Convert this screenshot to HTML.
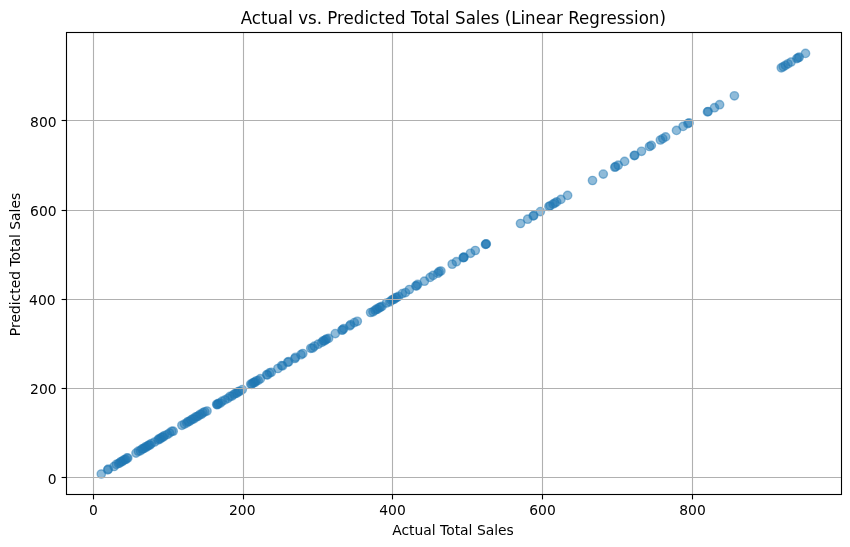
<!DOCTYPE html>
<html lang="en"><head><meta charset="utf-8"><title>Actual vs. Predicted Total Sales (Linear Regression)</title>
<style>html,body{margin:0;padding:0;background:#fff}body{width:850px;height:547px;overflow:hidden}svg{display:block}text{font-family:"DejaVu Sans","Liberation Sans",sans-serif;fill:#000}.t{font-size:13.889px}.h{font-size:16.667px}</style></head><body>
<svg width="850" height="547" viewBox="0 0 850 547">
<rect width="850" height="547" fill="#fff"/>
<g fill="#1f77b4" fill-opacity="0.5" stroke="#1f77b4" stroke-opacity="0.5" stroke-width="1.389">
<circle cx="101.3" cy="474.0" r="4.17"/>
<circle cx="107.7" cy="469.9" r="4.17"/>
<circle cx="108.3" cy="469.2" r="4.17"/>
<circle cx="114.1" cy="466.5" r="4.17"/>
<circle cx="116.3" cy="464.4" r="4.17"/>
<circle cx="118.5" cy="463.5" r="4.17"/>
<circle cx="119.8" cy="462.9" r="4.17"/>
<circle cx="121.0" cy="461.5" r="4.17"/>
<circle cx="122.2" cy="461.6" r="4.17"/>
<circle cx="123.4" cy="460.3" r="4.17"/>
<circle cx="124.6" cy="459.6" r="4.17"/>
<circle cx="125.8" cy="459.5" r="4.17"/>
<circle cx="127.0" cy="457.9" r="4.17"/>
<circle cx="127.8" cy="458.1" r="4.17"/>
<circle cx="136.0" cy="453.1" r="4.17"/>
<circle cx="138.3" cy="451.2" r="4.17"/>
<circle cx="140.3" cy="450.8" r="4.17"/>
<circle cx="141.8" cy="449.2" r="4.17"/>
<circle cx="143.0" cy="448.7" r="4.17"/>
<circle cx="144.2" cy="448.4" r="4.17"/>
<circle cx="145.4" cy="446.9" r="4.17"/>
<circle cx="146.6" cy="447.0" r="4.17"/>
<circle cx="147.8" cy="445.9" r="4.17"/>
<circle cx="148.9" cy="445.0" r="4.17"/>
<circle cx="150.0" cy="445.0" r="4.17"/>
<circle cx="151.3" cy="443.5" r="4.17"/>
<circle cx="154.6" cy="442.0" r="4.17"/>
<circle cx="158.0" cy="440.0" r="4.17"/>
<circle cx="159.0" cy="438.8" r="4.17"/>
<circle cx="160.0" cy="439.0" r="4.17"/>
<circle cx="161.2" cy="437.7" r="4.17"/>
<circle cx="162.4" cy="437.1" r="4.17"/>
<circle cx="163.5" cy="436.9" r="4.17"/>
<circle cx="164.5" cy="435.5" r="4.17"/>
<circle cx="167.3" cy="434.5" r="4.17"/>
<circle cx="169.5" cy="433.0" r="4.17"/>
<circle cx="171.7" cy="431.3" r="4.17"/>
<circle cx="173.2" cy="431.2" r="4.17"/>
<circle cx="181.9" cy="425.3" r="4.17"/>
<circle cx="184.4" cy="424.1" r="4.17"/>
<circle cx="186.8" cy="422.9" r="4.17"/>
<circle cx="188.0" cy="421.5" r="4.17"/>
<circle cx="189.5" cy="421.4" r="4.17"/>
<circle cx="191.0" cy="420.1" r="4.17"/>
<circle cx="192.5" cy="419.0" r="4.17"/>
<circle cx="194.0" cy="418.8" r="4.17"/>
<circle cx="195.5" cy="417.0" r="4.17"/>
<circle cx="197.0" cy="416.7" r="4.17"/>
<circle cx="198.5" cy="415.8" r="4.17"/>
<circle cx="200.0" cy="414.4" r="4.17"/>
<circle cx="201.5" cy="414.3" r="4.17"/>
<circle cx="203.0" cy="412.7" r="4.17"/>
<circle cx="204.8" cy="411.8" r="4.17"/>
<circle cx="207.0" cy="411.0" r="4.17"/>
<circle cx="216.7" cy="404.3" r="4.17"/>
<circle cx="217.3" cy="404.7" r="4.17"/>
<circle cx="217.9" cy="404.1" r="4.17"/>
<circle cx="218.6" cy="403.3" r="4.17"/>
<circle cx="220.4" cy="403.0" r="4.17"/>
<circle cx="222.2" cy="401.2" r="4.17"/>
<circle cx="225.0" cy="399.9" r="4.17"/>
<circle cx="228.0" cy="398.3" r="4.17"/>
<circle cx="230.0" cy="396.4" r="4.17"/>
<circle cx="232.0" cy="396.1" r="4.17"/>
<circle cx="234.0" cy="394.3" r="4.17"/>
<circle cx="235.5" cy="393.4" r="4.17"/>
<circle cx="237.0" cy="393.1" r="4.17"/>
<circle cx="238.3" cy="391.5" r="4.17"/>
<circle cx="239.6" cy="391.3" r="4.17"/>
<circle cx="242.3" cy="389.6" r="4.17"/>
<circle cx="250.7" cy="384.1" r="4.17"/>
<circle cx="251.8" cy="384.3" r="4.17"/>
<circle cx="252.9" cy="382.9" r="4.17"/>
<circle cx="254.0" cy="382.5" r="4.17"/>
<circle cx="255.1" cy="382.2" r="4.17"/>
<circle cx="256.2" cy="380.8" r="4.17"/>
<circle cx="258.2" cy="380.4" r="4.17"/>
<circle cx="260.4" cy="378.7" r="4.17"/>
<circle cx="266.7" cy="374.7" r="4.17"/>
<circle cx="267.5" cy="374.9" r="4.17"/>
<circle cx="269.5" cy="372.9" r="4.17"/>
<circle cx="271.3" cy="372.3" r="4.17"/>
<circle cx="277.9" cy="368.5" r="4.17"/>
<circle cx="281.6" cy="365.6" r="4.17"/>
<circle cx="282.6" cy="365.9" r="4.17"/>
<circle cx="287.7" cy="362.2" r="4.17"/>
<circle cx="288.7" cy="361.7" r="4.17"/>
<circle cx="294.9" cy="358.5" r="4.17"/>
<circle cx="295.5" cy="357.3" r="4.17"/>
<circle cx="301.0" cy="354.7" r="4.17"/>
<circle cx="302.8" cy="353.5" r="4.17"/>
<circle cx="310.8" cy="348.3" r="4.17"/>
<circle cx="312.6" cy="348.0" r="4.17"/>
<circle cx="314.4" cy="346.2" r="4.17"/>
<circle cx="318.2" cy="344.2" r="4.17"/>
<circle cx="321.8" cy="342.4" r="4.17"/>
<circle cx="323.2" cy="340.8" r="4.17"/>
<circle cx="324.4" cy="340.9" r="4.17"/>
<circle cx="325.6" cy="339.7" r="4.17"/>
<circle cx="326.6" cy="339.0" r="4.17"/>
<circle cx="328.6" cy="338.4" r="4.17"/>
<circle cx="335.3" cy="333.6" r="4.17"/>
<circle cx="341.9" cy="330.2" r="4.17"/>
<circle cx="342.8" cy="329.7" r="4.17"/>
<circle cx="343.7" cy="328.6" r="4.17"/>
<circle cx="349.8" cy="325.8" r="4.17"/>
<circle cx="350.6" cy="324.7" r="4.17"/>
<circle cx="354.3" cy="322.6" r="4.17"/>
<circle cx="357.3" cy="321.3" r="4.17"/>
<circle cx="370.6" cy="312.5" r="4.17"/>
<circle cx="373.0" cy="311.8" r="4.17"/>
<circle cx="375.0" cy="310.3" r="4.17"/>
<circle cx="376.4" cy="309.2" r="4.17"/>
<circle cx="377.8" cy="309.1" r="4.17"/>
<circle cx="379.2" cy="307.5" r="4.17"/>
<circle cx="380.4" cy="307.2" r="4.17"/>
<circle cx="382.0" cy="306.4" r="4.17"/>
<circle cx="386.5" cy="303.0" r="4.17"/>
<circle cx="389.9" cy="301.8" r="4.17"/>
<circle cx="391.4" cy="300.4" r="4.17"/>
<circle cx="392.8" cy="299.5" r="4.17"/>
<circle cx="394.2" cy="299.3" r="4.17"/>
<circle cx="395.4" cy="297.7" r="4.17"/>
<circle cx="396.8" cy="297.5" r="4.17"/>
<circle cx="398.5" cy="296.4" r="4.17"/>
<circle cx="402.3" cy="293.6" r="4.17"/>
<circle cx="405.5" cy="292.6" r="4.17"/>
<circle cx="409.4" cy="289.5" r="4.17"/>
<circle cx="415.8" cy="285.9" r="4.17"/>
<circle cx="416.7" cy="285.8" r="4.17"/>
<circle cx="417.6" cy="284.4" r="4.17"/>
<circle cx="424.4" cy="281.2" r="4.17"/>
<circle cx="430.1" cy="277.4" r="4.17"/>
<circle cx="433.1" cy="275.4" r="4.17"/>
<circle cx="437.9" cy="273.2" r="4.17"/>
<circle cx="439.1" cy="271.7" r="4.17"/>
<circle cx="440.9" cy="271.0" r="4.17"/>
<circle cx="452.2" cy="264.2" r="4.17"/>
<circle cx="456.4" cy="261.7" r="4.17"/>
<circle cx="463.2" cy="257.7" r="4.17"/>
<circle cx="463.6" cy="257.4" r="4.17"/>
<circle cx="464.0" cy="257.2" r="4.17"/>
<circle cx="470.5" cy="253.3" r="4.17"/>
<circle cx="475.3" cy="250.5" r="4.17"/>
<circle cx="485.5" cy="244.4" r="4.17"/>
<circle cx="485.9" cy="244.1" r="4.17"/>
<circle cx="486.3" cy="243.9" r="4.17"/>
<circle cx="520.5" cy="223.5" r="4.17"/>
<circle cx="527.7" cy="219.2" r="4.17"/>
<circle cx="533.2" cy="215.9" r="4.17"/>
<circle cx="533.8" cy="215.6" r="4.17"/>
<circle cx="540.4" cy="211.6" r="4.17"/>
<circle cx="548.9" cy="206.5" r="4.17"/>
<circle cx="550.1" cy="205.8" r="4.17"/>
<circle cx="553.1" cy="204.0" r="4.17"/>
<circle cx="554.9" cy="203.0" r="4.17"/>
<circle cx="556.7" cy="201.9" r="4.17"/>
<circle cx="560.9" cy="199.4" r="4.17"/>
<circle cx="567.6" cy="195.4" r="4.17"/>
<circle cx="592.5" cy="180.5" r="4.17"/>
<circle cx="603.3" cy="174.1" r="4.17"/>
<circle cx="614.8" cy="167.2" r="4.17"/>
<circle cx="615.6" cy="166.7" r="4.17"/>
<circle cx="618.2" cy="165.2" r="4.17"/>
<circle cx="624.6" cy="161.4" r="4.17"/>
<circle cx="634.2" cy="155.6" r="4.17"/>
<circle cx="634.8" cy="155.3" r="4.17"/>
<circle cx="641.5" cy="151.3" r="4.17"/>
<circle cx="649.5" cy="146.5" r="4.17"/>
<circle cx="651.3" cy="145.4" r="4.17"/>
<circle cx="660.4" cy="140.0" r="4.17"/>
<circle cx="662.8" cy="138.6" r="4.17"/>
<circle cx="665.6" cy="136.9" r="4.17"/>
<circle cx="676.5" cy="130.4" r="4.17"/>
<circle cx="683.1" cy="126.4" r="4.17"/>
<circle cx="687.9" cy="123.6" r="4.17"/>
<circle cx="689.1" cy="122.9" r="4.17"/>
<circle cx="707.5" cy="111.9" r="4.17"/>
<circle cx="708.1" cy="111.5" r="4.17"/>
<circle cx="714.5" cy="107.7" r="4.17"/>
<circle cx="719.6" cy="104.7" r="4.17"/>
<circle cx="734.4" cy="95.8" r="4.17"/>
<circle cx="781.3" cy="67.8" r="4.17"/>
<circle cx="783.2" cy="66.7" r="4.17"/>
<circle cx="785.4" cy="65.4" r="4.17"/>
<circle cx="788.0" cy="63.8" r="4.17"/>
<circle cx="791.1" cy="62.0" r="4.17"/>
<circle cx="796.8" cy="58.6" r="4.17"/>
<circle cx="798.0" cy="57.9" r="4.17"/>
<circle cx="799.2" cy="57.2" r="4.17"/>
<circle cx="805.5" cy="53.4" r="4.17"/>
</g>
<g stroke="#b0b0b0" stroke-width="1.11" fill="none">
<path d="M93.5 32.5V494.5"/>
<path d="M243.5 32.5V494.5"/>
<path d="M392.5 32.5V494.5"/>
<path d="M542.5 32.5V494.5"/>
<path d="M692.5 32.5V494.5"/>
<path d="M66.5 477.5H841.5"/>
<path d="M66.5 388.5H841.5"/>
<path d="M66.5 299.5H841.5"/>
<path d="M66.5 210.5H841.5"/>
<path d="M66.5 120.5H841.5"/>
</g>
<g stroke="#000" stroke-width="1.11" fill="none">
<path d="M93.5 494.5V499.4"/>
<path d="M243.5 494.5V499.4"/>
<path d="M392.5 494.5V499.4"/>
<path d="M542.5 494.5V499.4"/>
<path d="M692.5 494.5V499.4"/>
<path d="M66.5 477.5H61.6"/>
<path d="M66.5 388.5H61.6"/>
<path d="M66.5 299.5H61.6"/>
<path d="M66.5 210.5H61.6"/>
<path d="M66.5 120.5H61.6"/>
<rect x="66.5" y="32.5" width="775" height="462" stroke-linejoin="miter"/>
</g>
<text class="t" x="93.5" y="515" text-anchor="middle">0</text>
<text class="t" x="242.3" y="515" text-anchor="middle">200</text>
<text class="t" x="392.5" y="515" text-anchor="middle">400</text>
<text class="t" x="542.5" y="515" text-anchor="middle">600</text>
<text class="t" x="692.5" y="515" text-anchor="middle">800</text>
<text class="t" x="56.6" y="483.5" text-anchor="end">0</text>
<text class="t" x="56.6" y="393.5" text-anchor="end">200</text>
<text class="t" x="55.6" y="304.5" text-anchor="end">400</text>
<text class="t" x="56.6" y="215.5" text-anchor="end">600</text>
<text class="t" x="56.6" y="126.5" text-anchor="end">800</text>
<text class="t" x="453" y="535" text-anchor="middle">Actual Total Sales</text>
<text class="t" transform="translate(20 264.5) rotate(-90)" text-anchor="middle">Predicted Total Sales</text>
<text class="h" transform="translate(453.3 24) scale(1 1.075)" text-anchor="middle">Actual vs. Predicted Total Sales (Linear Regression)</text>
</svg></body></html>
